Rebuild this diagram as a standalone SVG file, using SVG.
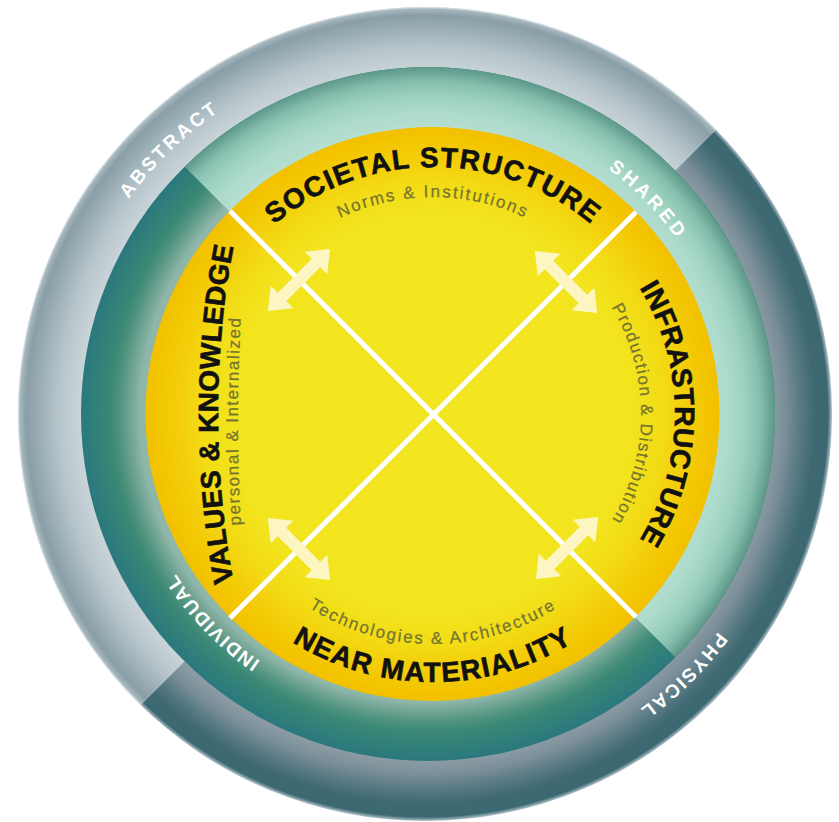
<svg xmlns="http://www.w3.org/2000/svg" width="839" height="822" viewBox="0 0 839 822">
<style>
.main{font-family:"Liberation Sans",Arial,sans-serif;font-weight:bold;font-size:28px;fill:#111111;stroke:#111111;stroke-width:0.6px;}
.sub{font-family:"Liberation Sans",Arial,sans-serif;font-size:17px;fill:#76742f;stroke:#76742f;stroke-width:0.25px;}
.ring{font-family:"Liberation Sans",Arial,sans-serif;font-weight:bold;font-size:19px;fill:#ffffff;}
.divider{stroke:#ffffff;stroke-width:5;fill:none;}
.arrow{fill:#fdf6c3;}
</style>
<defs>
<radialGradient id="grayLight" gradientUnits="userSpaceOnUse" cx="425" cy="414" r="407">
<stop offset="0" stop-color="#c8d3d8"/>
<stop offset="0.85" stop-color="#c8d3d8"/>
<stop offset="0.9" stop-color="#b7c5cb"/>
<stop offset="0.95" stop-color="#9aadb5"/>
<stop offset="0.98" stop-color="#8a9ea7"/>
<stop offset="0.995" stop-color="#a5b6be"/>
<stop offset="1" stop-color="#e2e9ec"/>
</radialGradient>
<radialGradient id="grayDark" gradientUnits="userSpaceOnUse" cx="425" cy="414" r="407">
<stop offset="0" stop-color="#8e9ea7"/>
<stop offset="0.853" stop-color="#8b9ba4"/>
<stop offset="0.885" stop-color="#7b8f99"/>
<stop offset="0.92" stop-color="#5a7b85"/>
<stop offset="0.958" stop-color="#3e6973"/>
<stop offset="0.99" stop-color="#3c6872"/>
<stop offset="1" stop-color="#b5c5cc"/>
</radialGradient>
<radialGradient id="tealLight" gradientUnits="userSpaceOnUse" cx="428" cy="414" r="347">
<stop offset="0" stop-color="#b4decf"/>
<stop offset="0.83" stop-color="#b4decf"/>
<stop offset="0.87" stop-color="#acdacb"/>
<stop offset="0.91" stop-color="#9fd2c1"/>
<stop offset="0.957" stop-color="#86bfae"/>
<stop offset="0.985" stop-color="#6aa595"/>
<stop offset="1" stop-color="#5d9988"/>
</radialGradient>
<radialGradient id="tealDark" gradientUnits="userSpaceOnUse" cx="428" cy="414" r="347">
<stop offset="0" stop-color="#8fb7a9"/>
<stop offset="0.83" stop-color="#8fb7a9"/>
<stop offset="0.85" stop-color="#7aa99a"/>
<stop offset="0.89" stop-color="#4f937f"/>
<stop offset="0.916" stop-color="#3a8874"/>
<stop offset="0.96" stop-color="#30807a"/>
<stop offset="1" stop-color="#2b787d"/>
</radialGradient>
<radialGradient id="yellowGrad" gradientUnits="userSpaceOnUse" cx="432.5" cy="414" r="287">
<stop offset="0" stop-color="#f2e620"/>
<stop offset="0.7" stop-color="#f2e41d"/>
<stop offset="0.8" stop-color="#f2dc16"/>
<stop offset="0.88" stop-color="#f3cf0b"/>
<stop offset="0.95" stop-color="#f3c603"/>
<stop offset="1" stop-color="#f2c000"/>
</radialGradient>
<clipPath id="clipUL"><polygon points="0,0 846,0 0,846"/></clipPath>
<clipPath id="clipUR"><polygon points="18,0 900,0 900,882"/></clipPath>
<path id="pTopMain" d="M 186 414 A 247 247 0 0 1 680 414"/>
<path id="pTopSub" d="M 216 414 A 217 217 0 0 1 650 414"/>
<path id="pRightMain" d="M 433 172 A 242 242 0 0 1 433 656"/>
<path id="pRightSub" d="M 433 206 A 208 208 0 0 1 433 622"/>
<path id="pBottomMain" d="M 165 414 A 268 268 0 0 0 701 414"/>
<path id="pBottomSub" d="M 203 414 A 230 230 0 0 0 663 414"/>
<path id="pLeftMain" d="M 433 864 A 215 450 0 0 1 433 -36"/>
<path id="pLeftSub" d="M 433 1021 A 195 600 0 0 1 433 -179"/>
<path id="pAbstract" d="M 161.7 668.3 A 366 366 0 0 1 688.3 159.7"/>
<path id="pPhysical" d="M 688.4 154.2 A 370 370 0 0 1 161.6 673.8"/>
<path id="pShared" d="M 214 193.9 A 307 307 0 0 1 642 634.1"/>
<path id="pIndividual" d="M 637.8 631.2 A 302 302 0 0 1 218.2 196.8"/>
<polygon id="dblArrow" points="-44,0 -24,-16 -24,-6 24,-6 24,-16 44,0 24,16 24,6 -24,6 -24,16"/>
</defs>

<g id="outer-ring">
<circle cx="425" cy="414" r="407" fill="url(#grayDark)"/>
<circle cx="425" cy="414" r="407" fill="url(#grayLight)" clip-path="url(#clipUL)"/>
</g>
<g id="middle-ring">
<circle cx="428" cy="414" r="347" fill="url(#tealDark)"/>
<circle cx="428" cy="414" r="347" fill="url(#tealLight)" clip-path="url(#clipUR)"/>
</g>
<g id="core">
<circle cx="432.5" cy="414" r="287" fill="url(#yellowGrad)"/>
<line class="divider" x1="230" y1="211" x2="636" y2="617"/>
<line class="divider" x1="636" y1="212" x2="230" y2="618"/>
</g>

<g id="connectors">
<use href="#dblArrow" class="arrow" transform="translate(299,280) rotate(-45)"/>
<use href="#dblArrow" class="arrow" transform="translate(566,282) rotate(45)"/>
<use href="#dblArrow" class="arrow" transform="translate(299,549) rotate(45)"/>
<use href="#dblArrow" class="arrow" transform="translate(567,548) rotate(-45)"/>
</g>

<g id="societal-structure">
<text class="main" style="letter-spacing:1.4px" text-anchor="middle"><textPath href="#pTopMain" startOffset="50%">SOCIETAL STRUCTURE</textPath></text>
<text class="sub" style="letter-spacing:2px" text-anchor="middle"><textPath href="#pTopSub" startOffset="50%">Norms &amp; Institutions</textPath></text>
</g>
<g id="infrastructure">
<text class="main" style="letter-spacing:0.5px" text-anchor="middle"><textPath href="#pRightMain" startOffset="50%">INFRASTRUCTURE</textPath></text>
<text class="sub" style="letter-spacing:1.5px" text-anchor="middle"><textPath href="#pRightSub" startOffset="50%">Production &amp; Distribution</textPath></text>
</g>
<g id="near-materiality">
<text class="main" style="letter-spacing:1.45px" text-anchor="middle"><textPath href="#pBottomMain" startOffset="50%">NEAR MATERIALITY</textPath></text>
<text class="sub" style="letter-spacing:1.95px" text-anchor="middle"><textPath href="#pBottomSub" startOffset="50%">Technologies &amp; Architecture</textPath></text>
</g>
<g id="values-knowledge">
<text class="main" style="letter-spacing:0.3px" text-anchor="middle"><textPath href="#pLeftMain" startOffset="50%">VALUES &amp; KNOWLEDGE</textPath></text>
<text class="sub" style="letter-spacing:1.5px" text-anchor="middle"><textPath href="#pLeftSub" startOffset="50%">personal &amp; Internalized</textPath></text>
</g>

<g id="ring-labels">
<text class="ring" style="letter-spacing:3px" text-anchor="middle"><textPath href="#pAbstract" startOffset="50%">ABSTRACT</textPath></text>
<text class="ring" style="letter-spacing:2px" text-anchor="middle"><textPath href="#pPhysical" startOffset="50%">PHYSICAL</textPath></text>
<text class="ring" style="letter-spacing:3.5px" text-anchor="middle"><textPath href="#pShared" startOffset="50%">SHARED</textPath></text>
<text class="ring" style="letter-spacing:1.5px" text-anchor="middle"><textPath href="#pIndividual" startOffset="50%">INDIVIDUAL</textPath></text>
</g>
</svg>
